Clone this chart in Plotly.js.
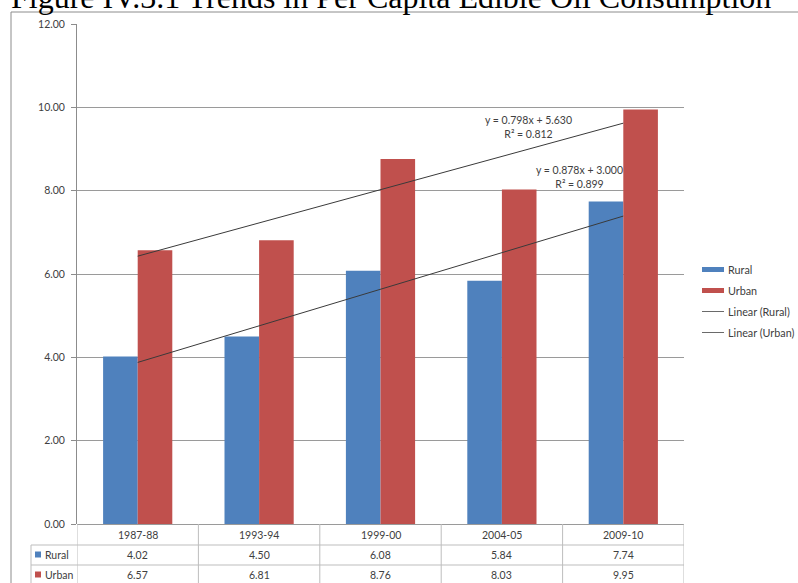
<!DOCTYPE html>
<html>
<head>
<meta charset="utf-8">
<script src="https://cdn.plot.ly/plotly-3.0.1.min.js"></script>
<style>
  html, body { margin: 0; padding: 0; background: #ffffff; }
  #chart { width: 798px; height: 583px; }
</style>
</head>
<body>
<div id="chart"></div>
<script>
// Per capita edible oil consumption, rural vs urban
const categories = ['1987-88', '1993-94', '1999-00', '2004-05', '2009-10'];
const rural = [4.02, 4.50, 6.08, 5.84, 7.74];
const urban = [6.57, 6.81, 8.76, 8.03, 9.95];
const seriesNames = ['Rural', 'Urban'];
const trendNames = ['Linear (Rural)', 'Linear (Urban)'];
// Linear trend fits (x = period number 1..5)
const trendSlopes = [0.878, 0.798];
const trendIntercepts = [3.000, 5.630];
const trendR2 = [0.899, 0.812];
const yTicks = [0, 2, 4, 6, 8, 10, 12];

const colors = ['#4F81BD', '#C0504D'];
const textColor = '#404040';
const font = 'Lato, "Open Sans", sans-serif';
const W = 798, H = 583;
const L = 77, R = 114, T = 24, B = 59;
const plotW = W - L - R, plotH = H - T - B;
const px = x => (x - L) / plotW;          // pixel column -> paper x
const py = y => (H - B - y) / plotH;      // pixel row -> paper y

const series = [rural, urban];
const traces = [];
series.forEach((vals, i) => {
  traces.push({
    type: 'bar', name: seriesNames[i], x: categories, y: vals,
    marker: { color: colors[i], line: { width: 0 } },
    hoverinfo: 'x+y+name', showlegend: false
  });
});
trendSlopes.forEach((m, i) => {
  const n = categories.length;
  traces.push({
    type: 'scatter', mode: 'lines', name: trendNames[i],
    x: [categories[0], categories[n - 1]],
    y: [m * 1 + trendIntercepts[i], m * n + trendIntercepts[i]],
    line: { color: '#3a3a3a', width: 1 }, showlegend: false
  });
});

const shapes = [];
const annotations = [];
const gridC = '#bdbdbd';

// outer chart frame
shapes.push({ type: 'rect', xref: 'paper', yref: 'paper',
  x0: px(11), x1: px(820), y0: py(600), y1: py(12),
  line: { color: '#8c8c8c', width: 1 }, fillcolor: 'rgba(0,0,0,0)', layer: 'below' });

// data table grid under the axis
const rowY = [524, 545, 565, 585];
for (let k = 1; k < rowY.length; k++) {
  shapes.push({ type: 'line', xref: 'paper', yref: 'paper',
    x0: px(31), x1: 1, y0: py(rowY[k]), y1: py(rowY[k]),
    line: { color: gridC, width: 1 } });
}
shapes.push({ type: 'line', xref: 'paper', yref: 'paper',
  x0: px(31), x1: px(31), y0: py(545), y1: py(600), line: { color: gridC, width: 1 } });
for (let k = 0; k <= categories.length; k++) {
  shapes.push({ type: 'line', xref: 'x', yref: 'paper',
    x0: k - 0.5, x1: k - 0.5, y0: py(524), y1: py(600), line: { color: gridC, width: 1 } });
}

// table contents
const tblFont = { family: font, size: 10.5, color: textColor };
categories.forEach((c, j) => {
  annotations.push({ xref: 'x', yref: 'paper', x: j, y: py(534.5), text: c,
    showarrow: false, font: tblFont, xanchor: 'center', yanchor: 'middle' });
  series.forEach((vals, i) => {
    annotations.push({ xref: 'x', yref: 'paper', x: j, y: py(i === 0 ? 555 : 575),
      text: vals[j].toFixed(2), showarrow: false, font: tblFont,
      xanchor: 'center', yanchor: 'middle' });
  });
});
seriesNames.forEach((name, i) => {
  const yc = i === 0 ? 554.5 : 574.5;
  shapes.push({ type: 'rect', xref: 'paper', yref: 'paper',
    x0: px(35), x1: px(41), y0: py(yc + 3), y1: py(yc - 3),
    fillcolor: colors[i], line: { width: 0 } });
  annotations.push({ xref: 'paper', yref: 'paper', x: px(43), y: py(yc), text: name,
    showarrow: false, font: tblFont, xanchor: 'left', yanchor: 'middle' });
});

// legend
const legY = [269.5, 290.5, 311.5, 332.5];
const legNames = seriesNames.concat(trendNames);
legNames.forEach((name, i) => {
  if (i < 2) {
    shapes.push({ type: 'rect', xref: 'paper', yref: 'paper',
      x0: px(702), x1: px(724), y0: py(legY[i] + 2.5), y1: py(legY[i] - 2.5),
      fillcolor: colors[i], line: { width: 0 } });
  } else {
    shapes.push({ type: 'line', xref: 'paper', yref: 'paper',
      x0: px(702), x1: px(724), y0: py(legY[i]), y1: py(legY[i]),
      line: { color: '#6a6a6a', width: 1 } });
  }
  annotations.push({ xref: 'paper', yref: 'paper', x: px(726), y: py(legY[i]), text: name,
    showarrow: false, font: { family: font, size: 10.8, color: textColor },
    xanchor: 'left', yanchor: 'middle' });
});

// trend equations
const eqPos = [{ x: 3.639, y: 8.34 }, { x: 3.223, y: 9.54 }];
trendSlopes.forEach((m, i) => {
  annotations.push({ xref: 'x', yref: 'y', x: eqPos[i].x, y: eqPos[i].y,
    text: 'y = ' + m.toFixed(3) + 'x + ' + trendIntercepts[i].toFixed(3) +
          '<br>R² = ' + trendR2[i].toFixed(3),
    showarrow: false, align: 'center', font: { family: font, size: 10.5, color: textColor },
    xanchor: 'center', yanchor: 'middle' });
});

// figure caption
annotations.push({ xref: 'paper', yref: 'paper', x: px(391), y: py(16),
  text: 'Figure IV.3.1 Trends in Per Capita Edible Oil Consumption',
  showarrow: false, font: { family: '"Liberation Serif", "Times New Roman", serif', size: 32, color: '#000000' },
  xanchor: 'center', yanchor: 'bottom', borderpad: 0 });

const layout = {
  width: W, height: H,
  margin: { l: L, r: R, t: T, b: B, pad: 0 },
  paper_bgcolor: '#ffffff', plot_bgcolor: '#ffffff',
  barmode: 'group', bargap: 0.43, bargroupgap: 0,
  showlegend: false,
  xaxis: { type: 'category', range: [-0.5, categories.length - 0.5],
    showticklabels: false, ticks: '', showgrid: false, zeroline: false,
    showline: false, fixedrange: true },
  yaxis: { range: [0, 12], tickvals: yTicks, tickformat: '.2f',
    ticks: 'outside', ticklen: 5, tickcolor: '#8c8c8c',
    showline: true, linecolor: '#8c8c8c', linewidth: 1,
    showgrid: true, gridcolor: '#9a9a9a', gridwidth: 1, zeroline: true,
    zerolinecolor: '#9a9a9a', ticklabelstandoff: 4,
    tickfont: { family: font, size: 10.5, color: textColor }, fixedrange: true },
  shapes: shapes, annotations: annotations,
  font: { family: font, color: textColor }
};

Plotly.newPlot('chart', traces, layout, { displayModeBar: false, staticPlot: true });
</script>
</body>
</html>
